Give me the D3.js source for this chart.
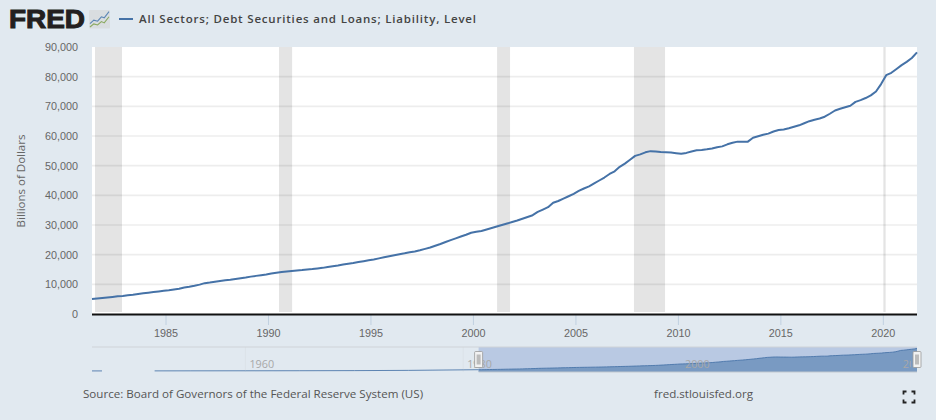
<!DOCTYPE html>
<html>
<head>
<meta charset="utf-8">
<script src="https://cdn.jsdelivr.net/npm/d3@7"></script>
<style>
  html, body { margin: 0; padding: 0; background: #e1e9f0; }
  svg { display: block; font-family: "Open Sans", sans-serif; }
</style>
</head>
<body>
<svg id="chart" width="936" height="420"></svg>
<script>
// Quarterly level, billions of dollars, first value is 1981 Q2
const firstYear = 1981;
const firstQuarter = 2;
const debtLevel = [
  5050, 5200, 5380,
  5550, 5750, 5950, 6100,
  6300, 6500, 6750, 7000,
  7200, 7400, 7600, 7800,
  8000, 8250, 8500, 8900,
  9150, 9500, 9900, 10400,
  10600, 10850, 11100, 11350,
  11550, 11800, 12050, 12300,
  12600, 12850, 13100, 13350,
  13650, 13900, 14150, 14350,
  14500, 14650, 14800, 15000,
  15150, 15350, 15550, 15850,
  16100, 16350, 16650, 16950,
  17200, 17500, 17800, 18100,
  18400, 18750, 19100, 19450,
  19800, 20150, 20450, 20800,
  21100, 21500, 21950, 22400,
  23000, 23600, 24250, 24900,
  25500, 26100, 26700, 27400,
  27700, 28000, 28500, 29000,
  29500, 30000, 30500, 31000,
  31500, 32100, 32700, 33300,
  34400, 35200, 36000, 37500,
  38100, 38900, 39700, 40500,
  41500, 42300, 43000, 44000,
  45000, 46000, 47200, 48100,
  49600, 50700, 52000, 53300,
  53800, 54500, 54900, 54800,
  54600, 54500, 54400, 54200,
  54000, 54300, 54800, 55200,
  55300, 55500, 55800, 56200,
  56500, 57200, 57700, 58100,
  58100, 58100, 59400, 59900,
  60400, 60800, 61500, 62000,
  62200, 62600, 63100, 63600,
  64300, 65000, 65500, 65900,
  66500, 67500, 68600, 69200,
  69700, 70200, 71500, 72100,
  72800, 73700, 75000, 77500,
  80500, 81300, 82600, 83900,
  85000, 86300, 88200
];

// Longer history for the range selector; null marks the gap in the record
const historyYears = [1945.92, 1946.8, 1946.9, 1951.6, 1951.7, 1955, 1960, 1965, 1970, 1975, 1980];
const historyLevel = [350, 360, null, null, 480, 620, 800, 1100, 1500, 2500, 4500];

const recessionStarts = ["1981-07-25", "1990-07-16", "2001-03-07", "2007-11-10", "2020-01-11"];
const recessionEnds = ["1982-11-18", "1991-03-07", "2001-10-24", "2009-05-17", "2020-02-20"];

const yTicks = [0, 10000, 20000, 30000, 40000, 50000, 60000, 70000, 80000, 90000];
const xTickYears = [1985, 1990, 1995, 2000, 2005, 2010, 2015, 2020];
const navTickYears = [1960, 1980, 2000, 2020];

const seriesTitle = "All Sectors; Debt Securities and Loans; Liability, Level";
const yAxisTitle = "Billions of Dollars";
const sourceText = "Source: Board of Governors of the Federal Reserve System (US)";
const siteText = "fred.stlouisfed.org";

// Logo sparkline shapes in a 0-10 unit square
const logoBlueLine = [[0, 2.6], [2, 4.6], [4, 4], [6, 6.6], [7.5, 6], [10, 9.6]];
const logoGreenLine = [[0, 0.6], [2, 2.4], [4, 1.8], [6, 3.8], [7.5, 3], [10, 6.6]];

const ink = "#666666";
const seriesColor = "#4572a7";

// Each quarterly reading is placed on the first day of the quarter's last month
const quarterDate = i => {
  const q = firstQuarter - 1 + i;
  return new Date(firstYear + Math.floor(q / 4), (q % 4) * 3 + 2, 1);
};
const yearDate = y => new Date(Math.floor(y), Math.round((y % 1) * 12), 1);

const points = debtLevel.map((v, i) => ({ date: quarterDate(i), value: v }));
const lastDate = points[points.length - 1].date;

const svg = d3.select("#chart");

// Main plot
const plot = { left: 92, right: 917, top: 47, bottom: 314 };
const x = d3.scaleTime().domain([points[0].date, lastDate]).range([plot.left, plot.right]);
const y = d3.scaleLinear().domain([0, 90000]).range([plot.bottom, plot.top]);

svg.append("rect")
  .attr("x", plot.left).attr("y", plot.top)
  .attr("width", plot.right - plot.left).attr("height", plot.bottom - plot.top)
  .attr("fill", "#ffffff");

svg.append("g").selectAll("rect")
  .data(recessionStarts.map((s, i) => [new Date(s), new Date(recessionEnds[i])]))
  .join("rect")
  .attr("x", d => x(d[0]))
  .attr("width", d => x(d[1]) - x(d[0]))
  .attr("y", plot.top)
  .attr("height", plot.bottom - 2 - plot.top)
  .attr("fill", "#e4e4e4");

const yAxis = d3.axisLeft(y).tickValues(yTicks).tickFormat(d3.format(",")).tickSize(0).tickPadding(14);
const yG = svg.append("g").attr("transform", `translate(${plot.left},0)`).call(yAxis);
yG.select(".domain").remove();
yG.selectAll("text").attr("fill", ink).style("font-size", "10.8px");
svg.append("g").selectAll("line")
  .data(yTicks.filter(t => t > 0 && t < 90000))
  .join("line")
  .attr("x1", plot.left).attr("x2", plot.right)
  .attr("y1", d => y(d)).attr("y2", d => y(d))
  .attr("stroke", "#000").attr("stroke-opacity", 0.07).attr("stroke-width", 1.6);

const xAxis = d3.axisBottom(x)
  .tickValues(xTickYears.map(yr => new Date(yr, 0, 1)))
  .tickFormat(d3.timeFormat("%Y"))
  .tickSize(10).tickPadding(4);
const xG = svg.append("g").attr("transform", `translate(0,${plot.bottom + 1})`).call(xAxis);
xG.select(".domain").remove();
xG.selectAll("line").attr("stroke", "#c0d0e0");
xG.selectAll("text").attr("fill", ink).style("font-size", "10.8px");

svg.append("line")
  .attr("x1", plot.left).attr("x2", plot.right)
  .attr("y1", plot.bottom + 0.5).attr("y2", plot.bottom + 0.5)
  .attr("stroke", "#111").attr("stroke-width", 1.8);

svg.append("path")
  .datum(points)
  .attr("fill", "none")
  .attr("stroke", seriesColor)
  .attr("stroke-width", 2)
  .attr("stroke-linejoin", "round")
  .attr("d", d3.line().x(d => x(d.date)).y(d => y(d.value)));

svg.append("text")
  .attr("transform", "translate(25,181) rotate(-90)")
  .attr("text-anchor", "middle")
  .attr("fill", ink)
  .style("font-size", "11.5px")
  .text(yAxisTitle);

// Header: logo and legend
svg.append("text")
  .attr("x", 9).attr("y", 28)
  .attr("textLength", 76).attr("lengthAdjust", "spacingAndGlyphs")
  .attr("fill", "#231f20").attr("stroke", "#231f20").attr("stroke-width", 1)
  .style("font-family", "'Liberation Sans', sans-serif")
  .style("font-weight", 700).style("font-size", "25.5px")
  .text("FRED");

const logo = svg.append("g").attr("transform", "translate(89,10)");
logo.append("rect").attr("width", 21).attr("height", 18.5).attr("rx", 1).attr("fill", "#d9dde0");
const logoX = d3.scaleLinear().domain([0, 10]).range([1, 20]);
const logoY = d3.scaleLinear().domain([0, 10]).range([18, 1]);
const logoLine = d3.line().x(d => logoX(d[0])).y(d => logoY(d[1]));
logo.append("path").attr("d", logoLine(logoBlueLine)).attr("fill", "none").attr("stroke", "#5b86b5").attr("stroke-width", 1.1);
logo.append("path").attr("d", logoLine(logoGreenLine)).attr("fill", "none").attr("stroke", "#8aa95f").attr("stroke-width", 1.1);

svg.append("line")
  .attr("x1", 119).attr("x2", 133).attr("y1", 19).attr("y2", 19)
  .attr("stroke", seriesColor).attr("stroke-width", 2);
svg.append("text")
  .attr("x", 139).attr("y", 23)
  .attr("fill", "#444")
  .style("font-size", "11.5px").style("font-weight", 600).style("letter-spacing", "0.81px")
  .text(seriesTitle);

// Range selector
const nav = { left: 92, right: 917, top: 347, bottom: 372 };
const navAll = historyYears.map((yr, i) => ({ date: yearDate(yr), value: historyLevel[i] })).concat(points);
const navX = d3.scaleTime().domain([yearDate(historyYears[0]), lastDate]).range([nav.left, nav.right]);
const navY = d3.scaleLinear().domain([0, 90000]).range([nav.bottom - 1, nav.top + 1]);
const selStart = points[0].date;

svg.append("defs").append("clipPath").attr("id", "nav-clip")
  .append("rect").attr("x", nav.left).attr("y", nav.top).attr("width", nav.right - nav.left - 6).attr("height", nav.bottom - nav.top);

svg.append("rect")
  .attr("x", navX(selStart)).attr("y", nav.top)
  .attr("width", nav.right - navX(selStart)).attr("height", nav.bottom - nav.top)
  .attr("fill", "#b9c9e3");

svg.append("g").selectAll("line")
  .data(navTickYears.slice(0, 2))
  .join("line")
  .attr("x1", d => navX(new Date(d, 0, 1))).attr("x2", d => navX(new Date(d, 0, 1)))
  .attr("y1", nav.top).attr("y2", nav.bottom)
  .attr("stroke", "#dbe2e8");

svg.append("path")
  .datum(navAll.filter(d => d.date >= selStart))
  .attr("fill", "#4572a7").attr("fill-opacity", 0.55)
  .attr("d", d3.area().x(d => navX(d.date)).y0(nav.bottom).y1(d => navY(d.value)));

svg.append("path")
  .datum(navAll)
  .attr("fill", "none").attr("stroke", seriesColor).attr("stroke-width", 1).attr("stroke-opacity", 0.85)
  .attr("d", d3.line().defined(d => d.value !== null).x(d => navX(d.date)).y(d => navY(d.value)));

svg.append("g").attr("clip-path", "url(#nav-clip)").selectAll("text")
  .data(navTickYears)
  .join("text")
  .attr("x", d => navX(new Date(d, 0, 1)) + 4)
  .attr("y", 368)
  .attr("fill", "#a8a8a8")
  .style("font-size", "10.8px")
  .text(d => d);

svg.append("path")
  .attr("d", `M${nav.left},${nav.top}H${nav.right}`)
  .attr("stroke", "#cfd4d8").attr("stroke-width", 1.2).attr("fill", "none");
svg.append("path")
  .attr("d", `M${navX(selStart)},${nav.bottom}H${nav.right}`)
  .attr("stroke", "#c3c9cf").attr("stroke-width", 1).attr("fill", "none");

// Selector handles at both ends of the chosen range
const handles = svg.append("g").selectAll("g")
  .data([navX(selStart), nav.right])
  .join("g")
  .attr("transform", d => `translate(${d},359.5)`);
handles.append("rect")
  .attr("x", -4).attr("y", -8).attr("width", 8).attr("height", 16).attr("rx", 1)
  .attr("fill", "#f2f2f2").attr("stroke", "#999").attr("stroke-width", 0.8);
handles.append("rect")
  .attr("x", -2).attr("y", -5).attr("width", 4).attr("height", 10)
  .attr("fill", "#bcbcbc");

// Footer
svg.append("text")
  .attr("x", 83).attr("y", 398)
  .attr("fill", "#555").style("font-size", "11.6px")
  .text(sourceText);
svg.append("text")
  .attr("x", 654).attr("y", 398)
  .attr("fill", "#555").style("font-size", "11.6px")
  .text(siteText);

// Fullscreen glyph built from four corner brackets
const corners = [[-1, -1], [1, -1], [-1, 1], [1, 1]];
svg.append("g").attr("transform", "translate(909,397)").selectAll("path")
  .data(corners)
  .join("path")
  .attr("d", d => `M${d[0] * 2.5},${d[1] * 5.5}H${d[0] * 5.5}V${d[1] * 2.5}`)
  .attr("fill", "none").attr("stroke", "#222").attr("stroke-width", 1.8);
</script>
</body>
</html>
